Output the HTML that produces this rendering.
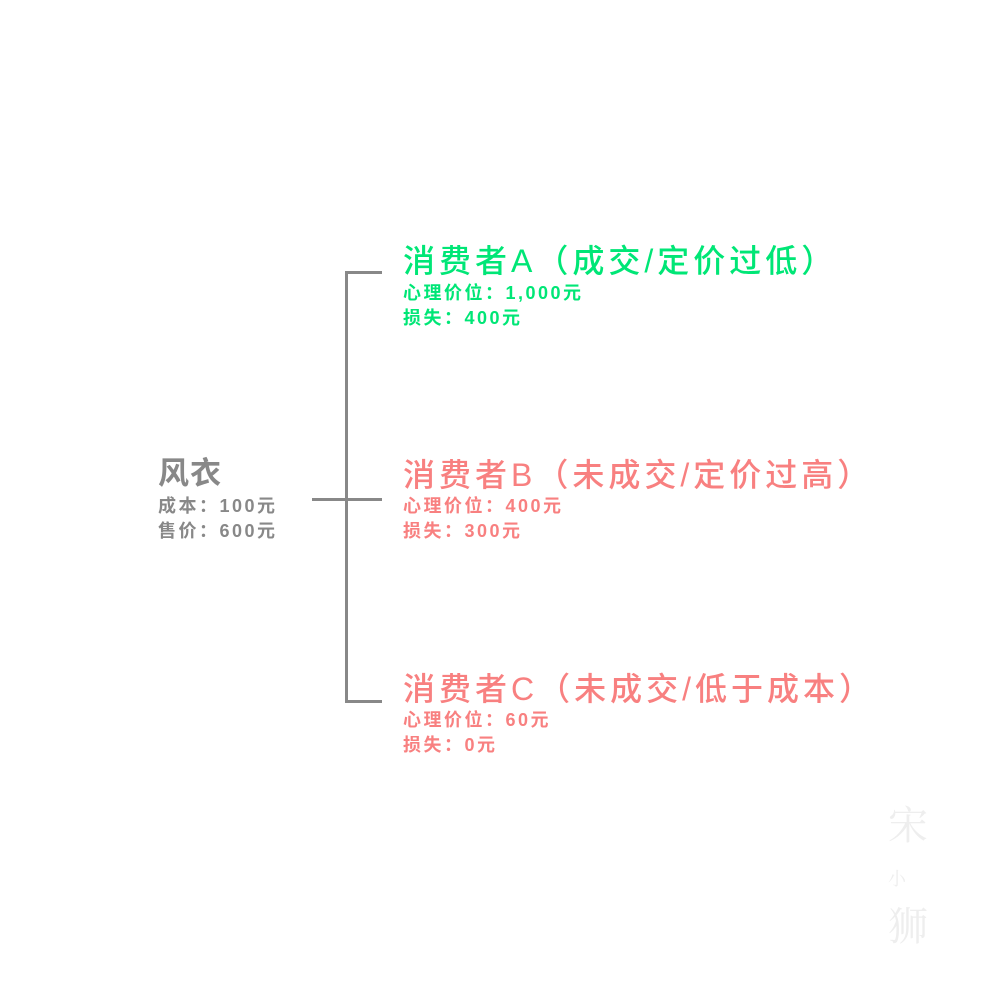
<!DOCTYPE html>
<html><head><meta charset="utf-8"><style>
body{margin:0;width:1000px;height:1001px;background:#fff;position:relative;overflow:hidden;font-family:"Liberation Sans","Noto Sans CJK SC",sans-serif}
.t{position:absolute;white-space:nowrap}
.h{font-size:32px;line-height:36px;letter-spacing:4px;font-weight:500}
.s{font-size:18px;line-height:25px;font-weight:bold;letter-spacing:2.5px}
.g{color:#00e676}.r{color:#f88080}.k{color:#888}
.l{position:absolute;background:#888}
</style></head><body>
<div class="l" style="left:345px;top:271px;width:3px;height:432px"></div>
<div class="l" style="left:345px;top:271px;width:37px;height:3px"></div>
<div class="l" style="left:312px;top:498px;width:70px;height:3px"></div>
<div class="l" style="left:345px;top:700px;width:37px;height:3px"></div>

<div class="t k" style="left:158px;top:456px;font-size:31px;font-weight:bold;line-height:36px;letter-spacing:1px">风衣</div>
<div class="t k s" style="left:158px;top:494px">成本：100元<br>售价：600元</div>

<div class="t g h" style="left:403px;top:243px">消费者A（成交/定价过低）</div>
<div class="t g s" style="left:403px;top:281px">心理价位：1,000元<br>损失：400元</div>

<div class="t r h" style="left:403px;top:457px">消费者B（未成交/定价过高）</div>
<div class="t r s" style="left:403px;top:494px">心理价位：400元<br>损失：300元</div>

<div class="t r h" style="left:403px;top:671px">消费者C（未成交/低于成本）</div>
<div class="t r s" style="left:403px;top:708px">心理价位：60元<br>损失：0元</div>

<div class="t" style="left:888px;top:800px;font-size:40px;color:#eeeeee;font-family:'Noto Serif CJK SC',serif;line-height:46px">宋<br><span style="font-size:18px">小</span><br>狮</div>
</body></html>
